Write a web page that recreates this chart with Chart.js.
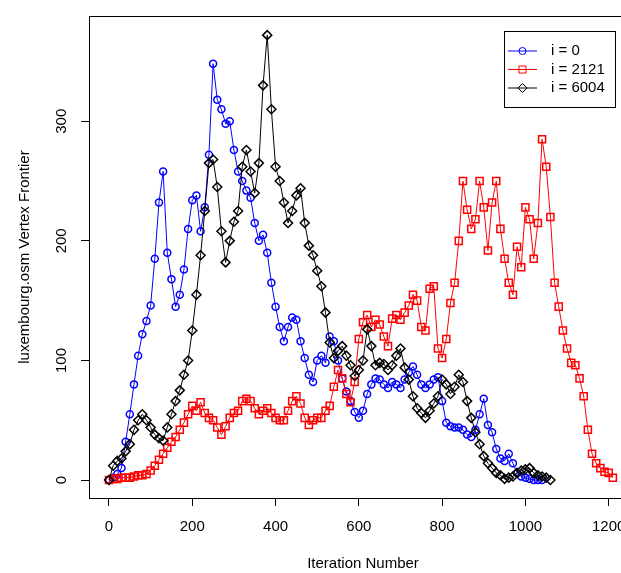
<!DOCTYPE html>
<html>
<head>
<meta charset="utf-8">
<script src="https://cdn.jsdelivr.net/npm/chart.js@4/dist/chart.umd.min.js"></script>
<style>
html, body { margin: 0; padding: 0; overflow: hidden; background: #fff; }
canvas { display: block; }
</style>
</head>
<body>
<canvas id="frontierChart" width="650" height="573"></canvas>
<script>
// iteration numbers (x) sampled every 10 steps
const iterations = [0, 10, 20, 30, 40, 50, 60, 70, 80, 90, 100, 110, 120, 130, 140, 150, 160, 170, 180, 190,
    200, 210, 220, 230, 240, 250, 260, 270, 280, 290, 300, 310, 320, 330, 340, 350, 360, 370, 380, 390,
    400, 410, 420, 430, 440, 450, 460, 470, 480, 490, 500, 510, 520, 530, 540, 550, 560, 570, 580, 590,
    600, 610, 620, 630, 640, 650, 660, 670, 680, 690, 700, 710, 720, 730, 740, 750, 760, 770, 780, 790,
    800, 810, 820, 830, 840, 850, 860, 870, 880, 890, 900, 910, 920, 930, 940, 950, 960, 970, 980, 990,
    1000, 1010, 1020, 1030, 1040, 1050, 1060, 1070, 1080, 1090, 1100, 1110, 1120, 1130, 1140, 1150, 1160,
    1170, 1180, 1190, 1200, 1210];

// vertex frontier size, i = 0
const frontier0 = [0, 2, 5, 10, 32, 55, 80, 104, 122, 133, 146, 185, 232, 258, 190, 168, 145, 155, 176, 210,
    234, 238, 208, 228, 272, 348, 318, 310, 298, 300, 276, 258, 250, 242, 236, 215, 200, 205, 190, 165,
    145, 128, 116, 128, 136, 134, 116, 102, 88, 82, 100, 104, 98, 120, 116, 100, 85, 74, 66, 57,
    52, 58, 72, 80, 85, 84, 80, 77, 82, 80, 77, 84, 90, 95, 88, 80, 77, 80, 84, 86,
    66, 48, 45, 44, 44, 42, 38, 36, 42, 55, 68, 46, 40, 26, 18, 16, 22, 14, 6, 3,
    2, 1, 0, 0, 0];

// i = 2121
const frontier2121 = [0, 1, 1, 2, 2, 2, 3, 4, 4, 5, 8, 12, 17, 22, 27, 32, 36, 42, 48, 55,
    62, 58, 65, 56, 52, 50, 44, 38, 45, 52, 56, 58, 66, 68, 66, 60, 55, 58, 60, 56,
    52, 50, 50, 58, 66, 70, 64, 52, 46, 50, 52, 52, 58, 62, 78, 92, 85, 72, 65, 82,
    118, 132, 138, 128, 134, 130, 120, 112, 135, 138, 134, 140, 146, 155, 150, 128, 125, 160, 162, 110,
    102, 118, 148, 165, 200, 250, 226, 210, 218, 250, 228, 192, 232, 250, 210, 185, 165, 155, 195, 178,
    228, 218, 185, 215, 285, 262, 220, 165, 145, 125, 110, 98, 96, 85, 70, 42, 22,
    14, 10, 7, 6, 2];

// i = 6004
const frontier6004 = [0, 12, 16, 18, 24, 30, 42, 50, 55, 50, 44, 38, 35, 33, 44, 55, 66, 75, 88, 100,
    125, 155, 188, 225, 265, 268, 245, 208, 182, 200, 216, 225, 262, 276, 258, 240, 265, 330, 372, 310,
    262, 250, 232, 215, 225, 238, 244, 215, 196, 188, 175, 162, 140, 115, 102, 108, 112, 104, 96, 87,
    92, 100, 126, 112, 96, 98, 97, 92, 96, 104, 110, 94, 84, 70, 60, 56, 52, 58, 64, 70,
    84, 80, 72, 78, 88, 82, 66, 52, 40, 30, 20, 14, 10, 6, 4, 1, 2, 3, 6, 8,
    9, 10, 6, 4, 3, 2, 0];

const seriesLabels = ['i = 0', 'i = 2121', 'i = 6004'];
const xTicks = [0, 200, 400, 600, 800, 1000, 1200];
const yTicks = [0, 100, 200, 300];

function toPoints(values) {
    return values.map((v, i) => ({ x: iterations[i], y: v }));
}

Chart.defaults.font.family = '"Liberation Sans", Arial, sans-serif';
Chart.defaults.font.size = 15;
Chart.defaults.color = '#000';

// box around the plot region, like base R graphics
const plotBox = {
    id: 'plotBox',
    afterDraw(chart) {
        const { ctx, chartArea } = chart;
        ctx.save();
        ctx.strokeStyle = '#000';
        ctx.lineWidth = 1;
        ctx.strokeRect(Math.round(chartArea.left) + 0.5, Math.round(chartArea.top) + 0.5,
            Math.round(chartArea.right - chartArea.left), Math.round(chartArea.bottom - chartArea.top));
        ctx.restore();
    }
};

// R style legend in the top right corner
const rLegend = {
    id: 'rLegend',
    afterDraw(chart) {
        const { ctx, chartArea } = chart;
        const w = 111, h = 76;
        const left = Math.round(chartArea.right - 22 - w);
        const top = Math.round(chartArea.top + 15);
        ctx.save();
        ctx.fillStyle = '#fff';
        ctx.fillRect(left, top, w, h);
        ctx.strokeStyle = '#000';
        ctx.lineWidth = 1;
        ctx.strokeRect(left + 0.5, top + 0.5, w, h);
        chart.data.datasets.forEach((ds, i) => {
            const y = top + 20 + i * 18.5;
            ctx.strokeStyle = ds.borderColor;
            ctx.lineWidth = 1;
            ctx.beginPath();
            ctx.moveTo(left + 4, y);
            ctx.lineTo(left + 33, y);
            ctx.stroke();
            ctx.fillStyle = 'rgba(0,0,0,0)';
            Chart.helpers.drawPoint(ctx, {
                pointStyle: ds.pointStyle, radius: ds.pointRadius, borderWidth: 1, rotation: 0
            }, left + 18.5, y);
            ctx.fillStyle = '#000';
            ctx.font = '15px "Liberation Sans", Arial, sans-serif';
            ctx.textBaseline = 'middle';
            ctx.textAlign = 'left';
            ctx.fillText(ds.label, left + 47, y);
        });
        ctx.restore();
    }
};

new Chart(document.getElementById('frontierChart'), {
    type: 'line',
    data: {
        datasets: [{
            label: seriesLabels[0],
            data: toPoints(frontier0),
            borderColor: '#0000ff',
            backgroundColor: 'rgba(0,0,0,0)',
            pointStyle: 'circle',
            pointRadius: 3.5,
            order: 3
        }, {
            label: seriesLabels[1],
            data: toPoints(frontier2121),
            borderColor: '#ff0000',
            backgroundColor: 'rgba(0,0,0,0)',
            pointStyle: 'rect',
            pointRadius: 5,
            order: 2
        }, {
            label: seriesLabels[2],
            data: toPoints(frontier6004),
            borderColor: '#000000',
            backgroundColor: 'rgba(0,0,0,0)',
            pointStyle: 'rectRot',
            pointRadius: 4.5,
            order: 1
        }]
    },
    options: {
        responsive: false,
        animation: false,
        devicePixelRatio: 1,
        layout: { padding: { top: 10, right: 13, left: 0, bottom: 0 } },
        elements: {
            line: { borderWidth: 1, tension: 0, fill: false },
            point: { borderWidth: 1.5, pointBackgroundColor: 'rgba(0,0,0,0)', hoverRadius: 4 }
        },
        plugins: { legend: { display: false }, tooltip: { enabled: false } },
        scales: {
            x: {
                type: 'linear',
                min: -48,
                max: 1268,
                afterBuildTicks: s => { s.ticks = xTicks.map(v => ({ value: v })); },
                afterFit: s => { s.height = 75; },
                ticks: { autoSkip: false, maxRotation: 0, padding: 12, color: '#000', callback: v => String(v) },
                grid: { drawOnChartArea: false, drawTicks: true, tickLength: 8, color: '#000' },
                border: { color: '#000' },
                title: { display: true, text: 'Iteration Number', color: '#000', padding: { top: 0, bottom: 0 } }
            },
            y: {
                type: 'linear',
                min: -15,
                max: 388,
                afterBuildTicks: s => { s.ticks = yTicks.map(v => ({ value: v })); },
                afterFit: s => { s.width = 89; },
                ticks: { minRotation: 90, maxRotation: 90, crossAlign: 'center', padding: 7, color: '#000', callback: v => String(v) },
                grid: { drawOnChartArea: false, drawTicks: true, tickLength: 8, color: '#000' },
                border: { color: '#000' },
                title: { display: true, text: 'luxembourg.osm Vertex Frontier', color: '#000', padding: { top: 16, bottom: 0 } }
            }
        }
    },
    plugins: [plotBox, rLegend]
});
</script>
</body>
</html>
